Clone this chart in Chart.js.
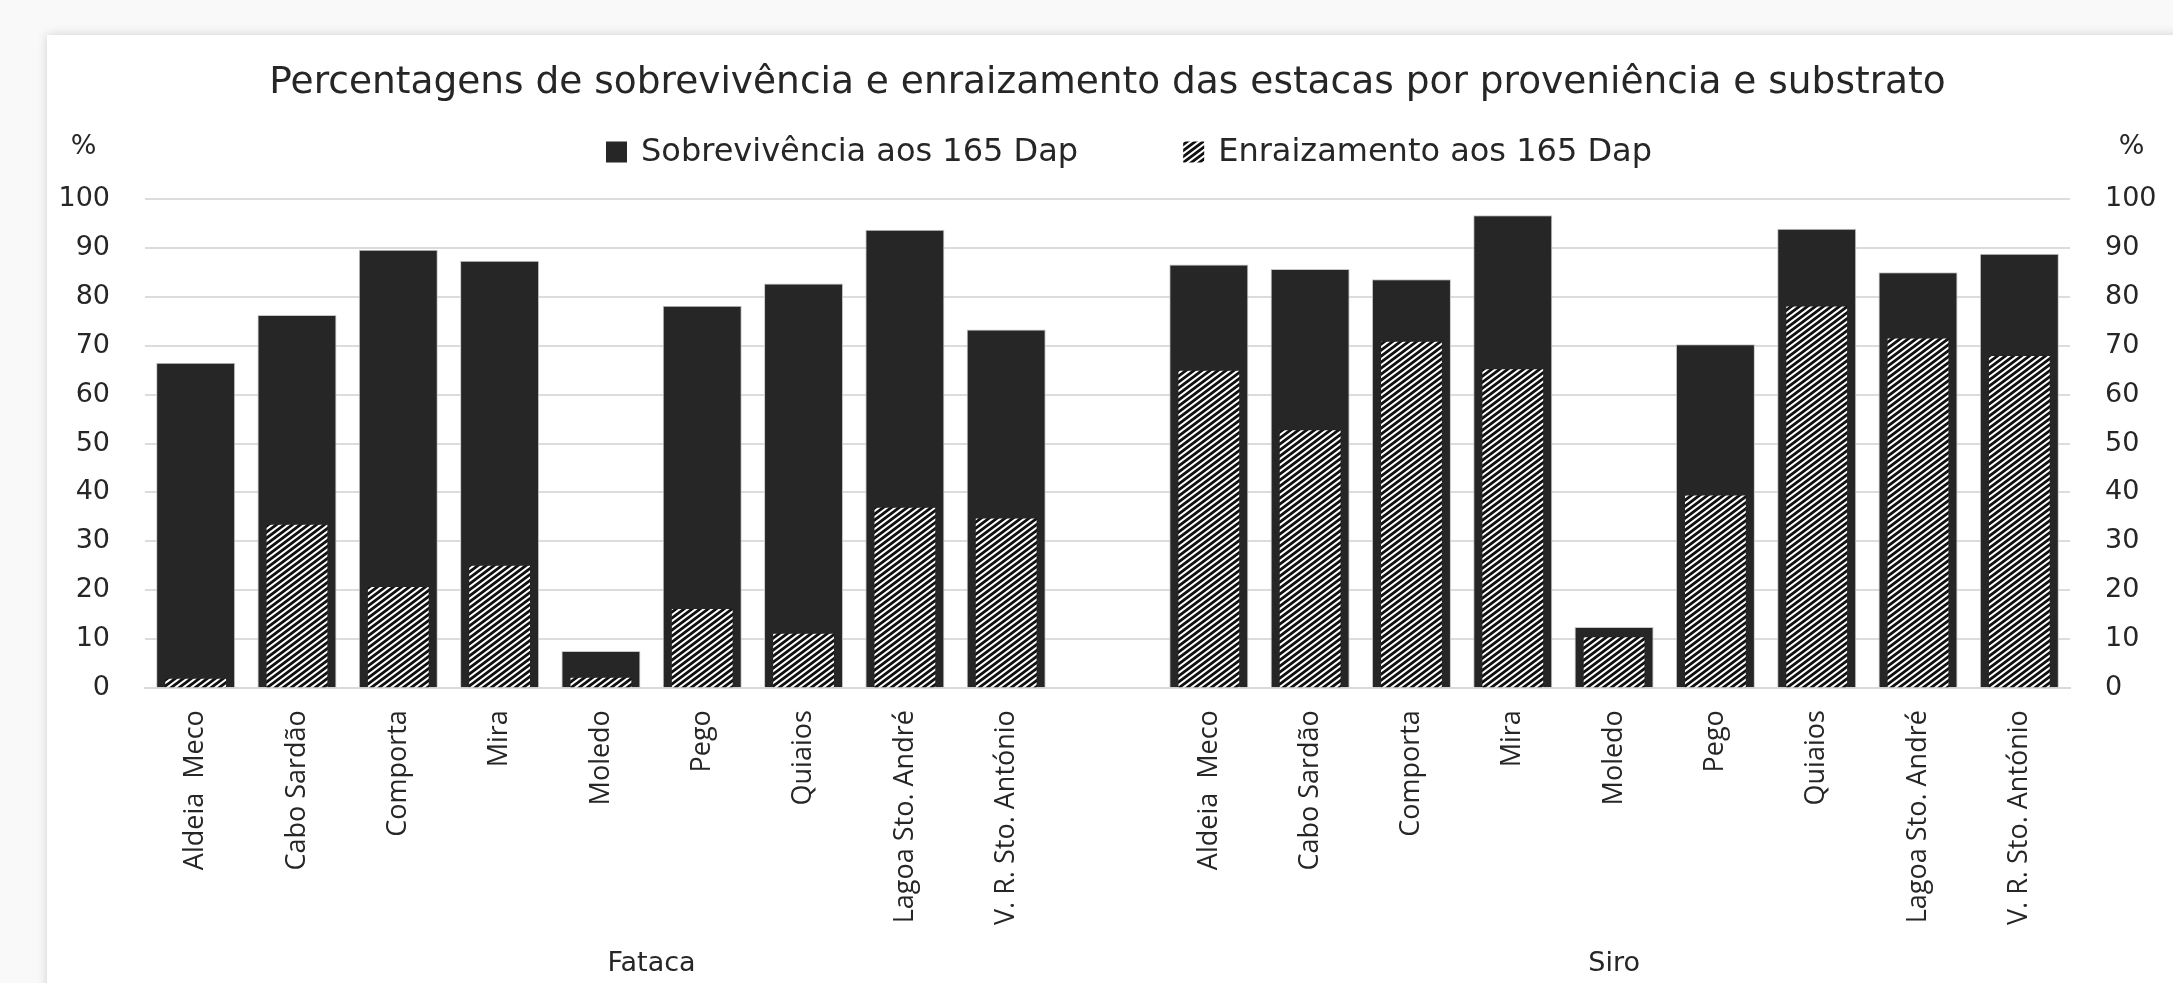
<!DOCTYPE html>
<html lang="pt">
<head>
    <meta charset="UTF-8">
    <title>Sobrevivência e enraizamento das estacas</title>
    <script src="https://cdn.jsdelivr.net/npm/chart.js"></script>
    <style>
        body { margin: 0; overflow: hidden; background: #f9f9f9; width: 2173px; height: 983px; }
        #frame { position: absolute; left: 47px; top: 35px; width: 2200px; height: 1000px; background: #fff;
                 box-shadow: 0 0 10px rgba(0, 0, 0, 0.16); }
        #chart { position: absolute; left: 0; top: 0; }
    </style>
</head>
<body>
    <div id="frame"></div>
    <canvas id="chart" width="2173" height="983"></canvas>
    <script>
        // provenances (same list for both substrates)
        var sites = ['Aldeia  Meco', 'Cabo Sardão', 'Comporta', 'Mira', 'Moledo', 'Pego', 'Quiaios', 'Lagoa Sto. André', 'V. R. Sto. António'];
        var substrates = ['Fataca', 'Siro'];

        // % survival / rooting at 165 days
        var survivalFataca = [66.5, 76.3, 89.6, 87.4, 7.6, 78.2, 82.7, 93.7, 73.3];
        var rootingFataca  = [1.9, 33.4, 20.7, 25.0, 2.1, 16.2, 11.1, 36.9, 34.7];
        var survivalSiro   = [86.6, 85.7, 83.6, 96.7, 12.5, 70.3, 93.9, 85.0, 88.8];
        var rootingSiro    = [64.9, 52.7, 70.8, 65.2, 10.4, 39.4, 78.0, 71.5, 67.9];

        var yTicks = [0, 10, 20, 30, 40, 50, 60, 70, 80, 90, 100];

        // one empty slot between the two substrates, like the excel sheet
        var labels = sites.concat(['']).concat(sites);
        var survival = survivalFataca.concat([null]).concat(survivalSiro);
        var rooting = rootingFataca.concat([null]).concat(rootingSiro);

        // upward diagonal hatch
        function makeHatch() {
            var w = 8, h = 6;
            var c = document.createElement('canvas');
            c.width = w; c.height = h;
            var g = c.getContext('2d');
            g.fillStyle = '#ffffff';
            g.fillRect(0, 0, w, h);
            g.strokeStyle = '#111111';
            g.lineWidth = 2.8;
            g.beginPath();
            for (var k = -1; k <= 1; k++) {
                g.moveTo(k * w - w / 2, h * 1.5);
                g.lineTo(k * w + w * 1.5, -h / 2);
            }
            g.stroke();
            return g.createPattern(c, 'repeat');
        }
        var hatch = makeHatch();

        var textColor = '#262626';
        var axisWidth = 88;

        // legend, "%" marks and substrate names drawn by hand
        var extras = {
            id: 'extras',
            afterDraw: function (chart) {
                var ctx = chart.ctx;
                var x = chart.scales.x, yl = chart.scales.y, yr = chart.scales.y2;
                ctx.save();
                ctx.fillStyle = textColor;
                ctx.textBaseline = 'middle';

                // % over both axes
                ctx.font = '27px "DejaVu Sans"';
                ctx.textAlign = 'center';
                ctx.fillText('%', (yl.left + yl.right - 35) / 2, 147);
                ctx.fillText('%', (yr.left + 35 + yr.right) / 2, 147);

                // substrate names under each group
                ctx.font = '27px "DejaVu Sans"';
                ctx.fillText(substrates[0], x.getPixelForValue((sites.length) / 2), 964);
                ctx.fillText(substrates[1], x.getPixelForValue(sites.length + 1 + (sites.length - 1) / 2), 964);

                // legend
                ctx.font = '32px "DejaVu Sans"';
                ctx.textAlign = 'left';
                var ds = chart.data.datasets;
                var box = 21, gapText = 14, gapItem = 105;
                var widths = ds.map(function (d) { return box + gapText + ctx.measureText(d.label).width; });
                var total = widths[0] + gapItem + widths[1];
                var lx = 1129 - total / 2, ly = 152;
                ds.forEach(function (d, i) {
                    ctx.fillStyle = d.backgroundColor;
                    ctx.fillRect(lx, ly - box / 2, box, box);
                    ctx.fillStyle = textColor;
                    ctx.fillText(d.label, lx + box + gapText, ly + 1);
                    lx += widths[i] + gapItem;
                });
                ctx.restore();
            }
        };

        function fixWidth(scale) { scale.width = axisWidth; }

        var chart = new Chart(document.getElementById('chart').getContext('2d'), {
            type: 'bar',
            data: {
                labels: labels,
                datasets: [{
                    label: 'Sobrevivência aos 165 Dap',
                    data: survival,
                    backgroundColor: '#262626',
                    borderColor: '#c8c8c8',
                    borderWidth: 1,
                    grouped: false,
                    barPercentage: 0.78,
                    categoryPercentage: 1,
                    order: 1
                }, {
                    label: 'Enraizamento aos 165 Dap',
                    data: rooting,
                    backgroundColor: hatch,
                    borderWidth: 0,
                    grouped: false,
                    barPercentage: 0.6,
                    categoryPercentage: 1,
                    order: 0
                }]
            },
            options: {
                responsive: false,
                animation: false,
                devicePixelRatio: 1,
                layout: { padding: { left: 57, right: 15, top: 0, bottom: 36 } },
                plugins: {
                    legend: { display: false },
                    tooltip: { enabled: false },
                    title: {
                        display: true,
                        text: 'Percentagens de sobrevivência e enraizamento das estacas por proveniência e substrato',
                        color: textColor,
                        font: { family: 'DejaVu Sans', size: 37.5, weight: 'normal' },
                        padding: { top: 61, bottom: 93 }
                    }
                },
                scales: {
                    x: {
                        grid: { display: false, drawTicks: false },
                        border: { display: true, color: '#d9d9d9', width: 2 },
                        ticks: {
                            autoSkip: false,
                            maxRotation: 90,
                            minRotation: 90,
                            padding: 22,
                            color: textColor,
                            font: { family: 'Open Sans', size: 27 }
                        }
                    },
                    y: {
                        position: 'left',
                        min: yTicks[0],
                        max: yTicks[yTicks.length - 1],
                        afterFit: fixWidth,
                        grid: { color: '#dcdcdc', lineWidth: 2, drawTicks: false },
                        border: { display: false },
                        ticks: {
                            stepSize: yTicks[1] - yTicks[0],
                            padding: 35,
                            color: textColor,
                            font: { family: 'DejaVu Sans', size: 27 }
                        }
                    },
                    y2: {
                        position: 'right',
                        min: yTicks[0],
                        max: yTicks[yTicks.length - 1],
                        afterFit: fixWidth,
                        grid: { display: false, drawTicks: false },
                        border: { display: false },
                        ticks: {
                            stepSize: yTicks[1] - yTicks[0],
                            padding: 35,
                            color: textColor,
                            font: { family: 'DejaVu Sans', size: 27 }
                        }
                    }
                }
            },
            plugins: [extras]
        });
    </script>
</body>
</html>
